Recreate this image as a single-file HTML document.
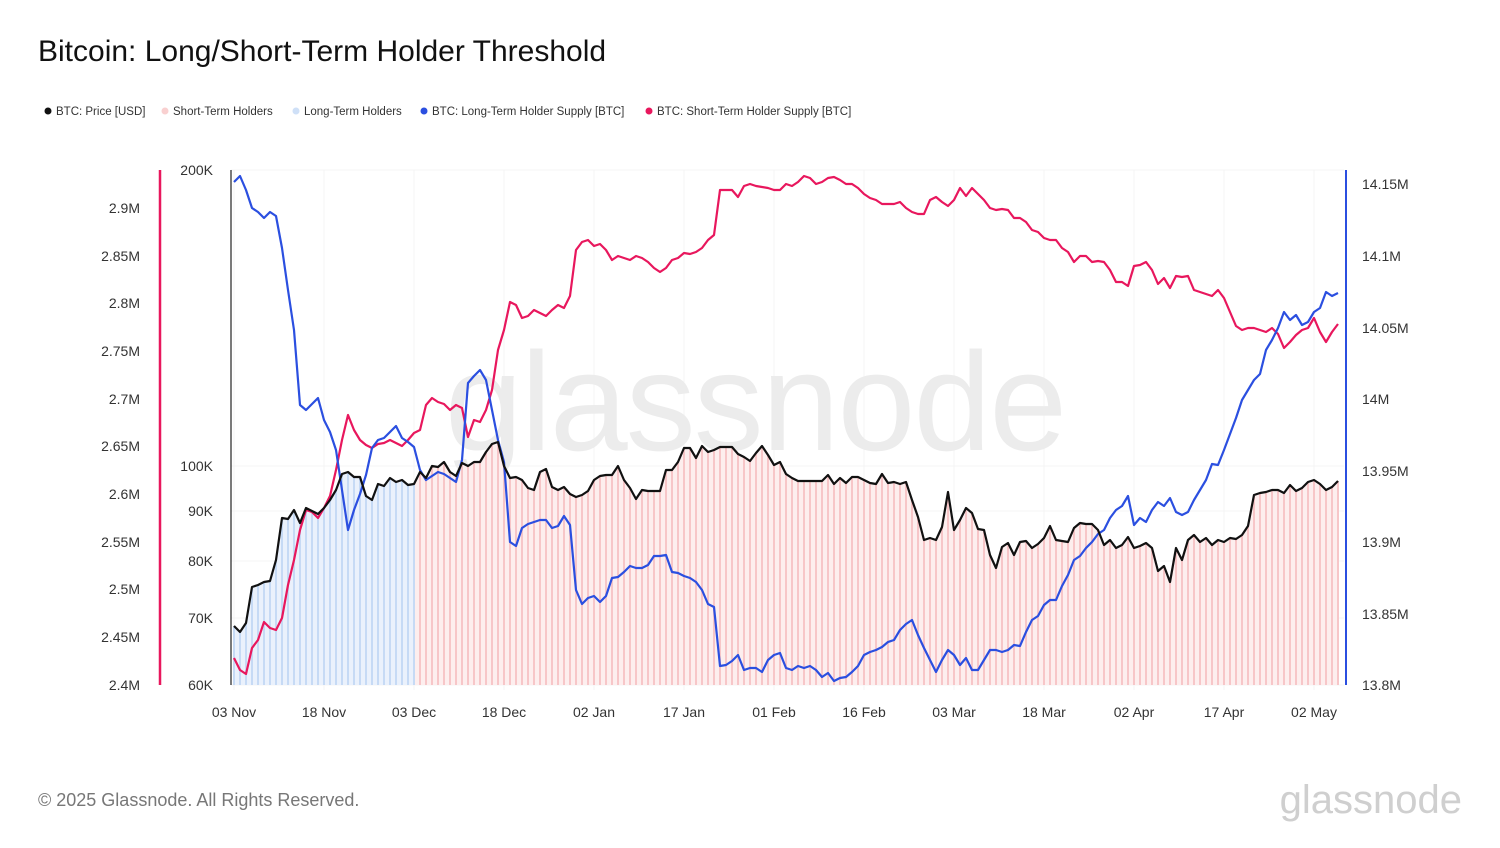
<!DOCTYPE html>
<html><head><meta charset="utf-8"><style>
body{margin:0;background:#fff;width:1500px;height:843px;overflow:hidden;font-family:"Liberation Sans",Arial,sans-serif}
</style></head><body>
<svg id="s" width="1500" height="843" xmlns="http://www.w3.org/2000/svg" font-family="Liberation Sans, Arial, sans-serif">
<defs>
<clipPath id="cb"><rect x="231" y="0" width="184" height="843"/></clipPath>
<clipPath id="cp"><rect x="414" y="0" width="930" height="843"/></clipPath>
</defs>
<text x="38" y="61" font-size="30" fill="#111">Bitcoin: Long/Short-Term Holder Threshold</text>
<g font-size="11.5" fill="#333">
<circle cx="48" cy="111" r="3.5" fill="#111"/><text x="56" y="115">BTC: Price [USD]</text>
<circle cx="165" cy="111" r="3.5" fill="#f9d0d0"/><text x="173" y="115">Short-Term Holders</text>
<circle cx="296" cy="111" r="3.5" fill="#cfe0f7"/><text x="304" y="115">Long-Term Holders</text>
<circle cx="424" cy="111" r="3.5" fill="#2b4fe0"/><text x="432" y="115">BTC: Long-Term Holder Supply [BTC]</text>
<circle cx="649" cy="111" r="3.5" fill="#e8175d"/><text x="657" y="115">BTC: Short-Term Holder Supply [BTC]</text>
</g>
<g id="grid" stroke="#f4f4f4" stroke-width="1"></g>
<text x="755" y="450" font-size="140" fill="#ececec" text-anchor="middle" letter-spacing="-2">glassnode</text>
<g id="bars"></g>
<line x1="160" y1="170" x2="160" y2="685" stroke="#e8175d" stroke-width="2.5"/>
<line x1="231" y1="170" x2="231" y2="685" stroke="#222" stroke-width="1.2"/>
<line x1="1346" y1="170" x2="1346" y2="685" stroke="#2b4fe0" stroke-width="2"/>
<g font-size="14" fill="#333" text-anchor="end" id="lax"></g>
<g font-size="14" fill="#333" id="rax"></g>
<g font-size="14" fill="#333" text-anchor="middle" id="xax"></g>
<g id="lines"></g>
<text x="38" y="806" font-size="18" fill="#777">© 2025 Glassnode. All Rights Reserved.</text>
<text x="1462" y="813" font-size="40" fill="#cfcfcf" text-anchor="end">glassnode</text>
</svg>
<script>
var NS="http://www.w3.org/2000/svg";
function el(t,a,p){var e=document.createElementNS(NS,t);for(var k in a)e.setAttribute(k,a[k]);if(p)p.appendChild(e);return e;}
var price=[626,632,623,587,585,582,581,560,518,519,510,523,508,511,514,508,500,490,474,472,477,477,496,500,484,486,478,482,480,485,484,472,478,466,467,462,472,476,463,466,462,462,452,444,442,466,478,477,480,488,490,472,469,487,490,487,494,497,495,491,480,476,475,475,466,480,488,499,490,491,491,491,470,470,462,448,448,458,446,452,450,447,447,447,454,457,461,453,446,455,465,462,474,478,481,481,481,481,481,475,484,478,483,477,477,480,483,484,474,483,482,484,482,500,517,540,538,540,527,492,530,520,508,513,529,530,555,568,547,543,555,542,541,548,544,538,526,540,541,542,528,523,524,524,530,545,540,548,545,537,548,546,543,548,571,566,582,548,560,540,535,542,538,545,540,542,538,539,535,526,495,493,492,490,490,493,485,491,488,482,480,484,490,487,481];
var sth=[658,670,674,648,640,622,628,630,618,585,560,530,510,512,518,508,496,470,440,415,430,440,445,448,444,443,440,443,446,440,433,430,405,398,402,404,410,405,408,437,420,422,410,390,350,330,302,305,318,316,310,313,316,310,305,308,296,250,242,240,246,244,250,260,256,258,260,256,258,262,268,272,268,260,258,253,254,252,248,240,235,190,190,190,197,186,184,186,187,188,190,190,184,186,182,176,178,184,182,178,177,180,184,184,188,194,198,200,204,204,204,202,208,212,214,214,200,197,202,206,200,188,196,188,194,200,208,210,209,210,218,218,222,230,232,238,240,240,248,252,262,256,256,262,261,262,270,282,282,286,266,265,262,270,284,278,288,276,277,276,290,292,294,296,290,298,312,326,330,328,328,330,332,328,334,348,342,335,330,328,318,332,342,332,324];
var lth=[182,176,190,208,212,218,212,216,248,290,330,405,410,404,398,420,432,450,490,530,510,494,475,448,440,438,432,426,438,442,447,470,480,476,472,474,478,482,460,383,376,370,380,410,440,462,542,546,528,524,522,520,520,528,526,516,525,590,604,598,596,602,596,578,577,572,566,568,568,565,556,556,555,572,573,576,578,582,590,604,607,666,665,661,655,670,668,668,672,660,655,653,668,670,666,668,666,670,677,673,681,678,677,672,666,655,652,650,647,642,640,630,624,620,635,648,660,672,660,650,655,665,658,670,670,660,650,650,652,650,645,646,632,620,616,605,600,600,586,575,560,556,548,542,534,530,518,510,506,496,525,518,522,510,502,506,498,512,515,512,500,490,480,464,465,450,434,418,400,390,380,374,350,340,328,312,320,315,325,322,312,308,292,296,293];
var g=document.getElementById('grid');
[170,466,511,561,618,685].forEach(function(y){el('line',{x1:231,x2:1344,y1:y,y2:y},g)});
var dates=["03 Nov","18 Nov","03 Dec","18 Dec","02 Jan","17 Jan","01 Feb","16 Feb","03 Mar","18 Mar","02 Apr","17 Apr","02 May"];
var dx=[234,324,414,504,594,684,774,864,954,1044,1134,1224,1314];
var xa=document.getElementById('xax');
dates.forEach(function(d,i){el('line',{x1:dx[i],x2:dx[i],y1:170,y2:690},g);var t=el('text',{x:dx[i],y:717},xa);t.textContent=d;});
var b=document.getElementById('bars');
function poly(arr){var s="";arr.forEach(function(y,i){s+=(234+i*6)+","+y+" ";});return s;}
var area=poly(price)+" 1338,685 234,685";
el('polygon',{points:area,fill:"#eaf1fc","clip-path":"url(#cb)"},b);
el('polygon',{points:area,fill:"#fdeeee","clip-path":"url(#cp)"},b);
price.forEach(function(y,i){var x=234+i*6;el('rect',{x:x-1,y:y,width:2,height:685-y,fill:x<=414?"#c6daf5":"#f7c6c8"},b);});
var L=document.getElementById('lines');
el('polyline',{points:poly(sth),fill:"none",stroke:"#e8175d","stroke-width":2.2,"stroke-linejoin":"round"},L);
el('polyline',{points:poly(lth),fill:"none",stroke:"#2b4fe0","stroke-width":2.2,"stroke-linejoin":"round"},L);
el('polyline',{points:poly(price),fill:"none",stroke:"#111","stroke-width":2.2,"stroke-linejoin":"round"},L);
var la=document.getElementById('lax');
[["2.9M",208],["2.85M",256],["2.8M",303],["2.75M",351],["2.7M",399],["2.65M",446],["2.6M",494],["2.55M",542],["2.5M",589],["2.45M",637],["2.4M",685]].forEach(function(p){var t=el('text',{x:140,y:p[1]+5},la);t.textContent=p[0];});
[["200K",170],["100K",466],["90K",511],["80K",561],["70K",618],["60K",685]].forEach(function(p){var t=el('text',{x:213,y:p[1]+5},la);t.textContent=p[0];});
var ra=document.getElementById('rax');
[["14.15M",184],["14.1M",256],["14.05M",328],["14M",399],["13.95M",471],["13.9M",542],["13.85M",614],["13.8M",685]].forEach(function(p){var t=el('text',{x:1362,y:p[1]+5},ra);t.textContent=p[0];});
</script>
</body></html>
